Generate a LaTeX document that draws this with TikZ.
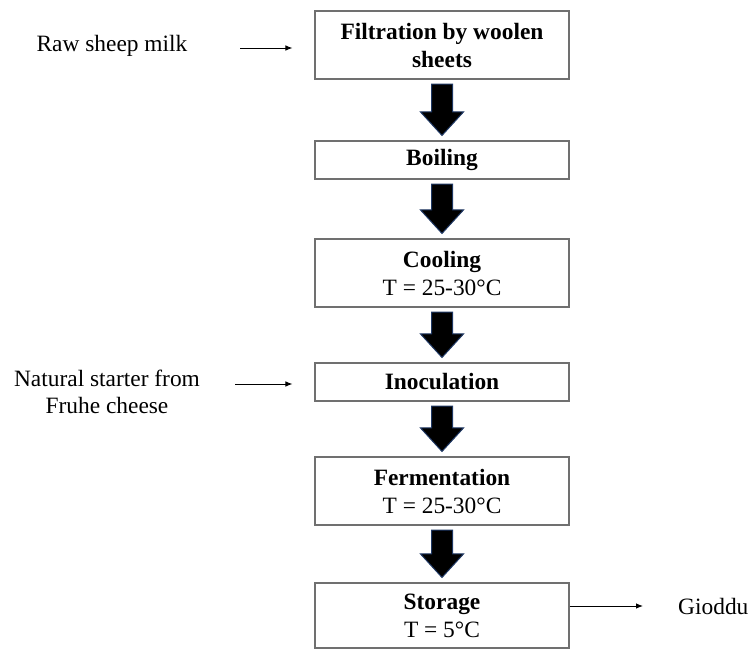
\documentclass[tikz,border=0pt]{standalone}
\usepackage{fontspec}
\setmainfont{Liberation Serif}
\usetikzlibrary{arrows.meta,calc}
\definecolor{boxgray}{HTML}{707070}
\definecolor{arrblue}{HTML}{1F3864}
\tikzset{
  stepbox/.style={draw=boxgray, line width=1.1pt, minimum width=254pt, inner sep=0pt,
    align=center, font=\fontsize{23.4}{28}\selectfont},
  sidetext/.style={inner sep=0pt, align=center, font=\fontsize{23.4}{27}\selectfont},
  thinarr/.style={line width=0.9pt, -{Latex[length=7pt,width=5.5pt]}},
  blockarr/.style={fill=black, draw=arrblue, line width=1pt, line join=miter}
}
\newcommand{\blockarrow}[2]{%
  \draw[blockarr] let \p1=(#1.south), \p2=(#2.north) in
    (\x1-10.5pt,\y1-4.5pt) -- (\x1+10.5pt,\y1-4.5pt) -- (\x1+10.5pt,\y2+28.5pt)
    -- (\x1+21.5pt,\y2+28.5pt) -- (\x1,\y2+5pt) -- (\x1-21.5pt,\y2+28.5pt)
    -- (\x1-10.5pt,\y2+28.5pt) -- cycle;}
\begin{document}
\begin{tikzpicture}[x=1pt,y=-1pt]
\useasboundingbox (0,0) rectangle (755,650);
\node[stepbox, minimum height=68pt] (filt) at (442,45) {\textbf{Filtration by woolen}\\\textbf{sheets}};
\node[stepbox, minimum height=38pt] (boil) at (442,160) {\textbf{Boiling}};
\node[stepbox, minimum height=68pt] (cool) at (442,273) {\textbf{Cooling}\\T = 25-30°C};
\node[stepbox, minimum height=38pt] (inoc) at (442,382) {\textbf{Inoculation}};
\node[stepbox, minimum height=68pt] (ferm) at (442,491) {\textbf{Fermentation}\\T = 25-30°C};
\node[stepbox, minimum height=65pt] (stor) at (442,615.5) {\textbf{Storage}\\T = 5°C};

\node[sidetext] (raw) at (112,46) {Raw sheep milk};
\node[sidetext] (nat) at (107,392) {Natural starter from\\Fruhe cheese};
\node[sidetext, anchor=west] (gio) at (678,606) {Gioddu};

\coordinate (rawA) at (240,48);
\coordinate (natA) at (235,384);
\draw[thinarr, shorten >=22pt] (rawA) -- (rawA -| filt.west);
\draw[thinarr, shorten >=22pt] (natA) -- (natA -| inoc.west);
\draw[thinarr, shorten >=35pt] (stor.east |- gio.west) -- (gio.west);

\blockarrow{filt}{boil}
\blockarrow{boil}{cool}
\blockarrow{cool}{inoc}
\blockarrow{inoc}{ferm}
\blockarrow{ferm}{stor}
\end{tikzpicture}
\end{document}
